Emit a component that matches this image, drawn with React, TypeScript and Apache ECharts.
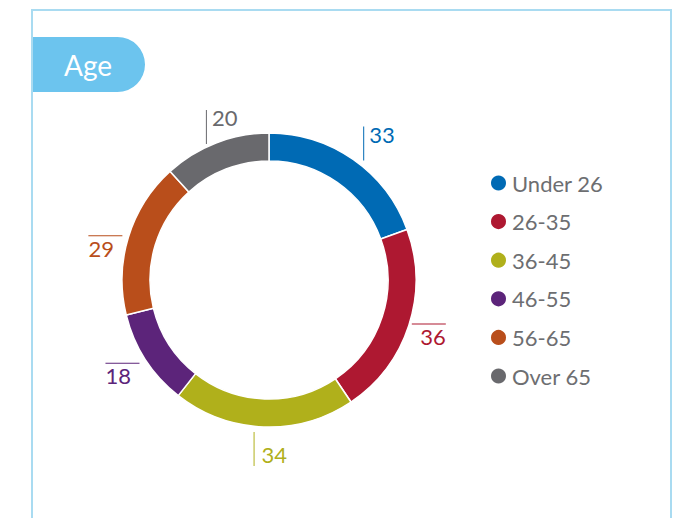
import React, { useEffect, useRef } from "react";
import * as echarts from "echarts";

const categories = ["Under 26", "26-35", "36-45", "46-55", "56-65", "Over 65"];
const values = [33, 36, 34, 18, 29, 20];
const colors = ["#006ab4", "#ae1831", "#b0b01b", "#5c247a", "#b94e1b", "#69696d"];
const titleText = "Age";

const W = 680;
const H = 518;
const CX = 269;
const CY = 280;
const R_IN = 119;
const R_OUT = 147;
const FONT = "Lato, 'Open Sans', sans-serif";

export default function App() {
  const ref = useRef<HTMLDivElement>(null);

  useEffect(() => {
    if (!ref.current) return;
    const chart = echarts.init(ref.current, undefined, { renderer: "svg" });

    const total = values.reduce((a, b) => a + b, 0);
    const mids: number[] = [];
    let cum = 0;
    values.forEach((v) => {
      mids.push(((cum + v / 2) / total) * Math.PI * 2);
      cum += v;
    });
    const isVertical = (i: number) => Math.abs(Math.cos(mids[i])) > 0.7;

    const data = values.map((v, i) => {
      const c = colors[i];
      const th = mids[i];
      let fmt: string;
      if (isVertical(i)) {
        fmt = Math.cos(th) > 0 ? `{vbar|}{numT|${v}}` : `{vbar|}{numB|${v}}`;
      } else {
        fmt = Math.sin(th) > 0 ? `{hbar|}\n{numR|${v}}` : `{hbar|}\n{numL|${v}}`;
      }
      const num = { fontSize: 22, color: c, fontFamily: FONT, fontWeight: "normal", lineHeight: 22 };
      return {
        name: categories[i],
        value: v,
        itemStyle: { color: c },
        label: {
          formatter: fmt,
          rich: {
            vbar: { width: 1, height: 34, lineHeight: 34, backgroundColor: c },
            hbar: { width: 34, height: 1, lineHeight: 1, backgroundColor: c },
            numT: { ...num, verticalAlign: "top", padding: [-3, 0, 0, 5] },
            numB: { ...num, verticalAlign: "bottom", padding: [0, 0, 0, 7] },
            numR: { ...num, align: "right", padding: [2, 0, 0, 0] },
            numL: { ...num, align: "left", padding: [2, 0, 0, 0] },
          },
        },
      };
    });

    chart.setOption({
      animation: false,
      graphic: [
        {
          type: "rect",
          shape: { x: 32, y: 10, width: 639, height: 530 },
          style: { fill: "none", stroke: "#a9dbf1", lineWidth: 2 },
          z: 0,
        },
        {
          type: "rect",
          shape: { x: 33, y: 37, width: 112, height: 55, r: [0, 27.5, 27.5, 0] },
          style: { fill: "#6cc4ee" },
          z: 1,
        },
        {
          type: "text",
          x: 88,
          y: 65,
          style: {
            text: titleText,
            fill: "#ffffff",
            fontSize: 28,
            fontFamily: FONT,
            fontWeight: "normal",
            align: "center",
            verticalAlign: "middle",
          },
          z: 2,
        },
      ],
      legend: {
        orient: "vertical",
        left: 489,
        top: 172,
        padding: 0,
        icon: "circle",
        itemWidth: 17,
        itemHeight: 17,
        itemGap: 16.6,
        data: categories,
        textStyle: { fontSize: 22, color: "#6d6e71", fontFamily: FONT, fontWeight: "normal" },
      },
      series: [
        {
          type: "pie",
          center: [CX, CY],
          radius: [R_IN, R_OUT],
          startAngle: 90,
          clockwise: true,
          avoidLabelOverlap: false,
          itemStyle: { borderColor: "#ffffff", borderWidth: 1.5 },
          emphasis: { disabled: true },
          label: { show: true, position: "outside" },
          labelLine: { show: false },
          labelLayout: (p: any) => {
            const i = p.dataIndex;
            const th = mids[i];
            const s = Math.sin(th);
            const c = Math.cos(th);
            const px = CX + R_OUT * s;
            const py = CY - R_OUT * c;
            if (isVertical(i)) {
              return {
                x: px + (s >= 0 ? 10 : -10),
                y: c > 0 ? py + 1 : py + 5,
                align: "left",
                verticalAlign: c > 0 ? "bottom" : "top",
              };
            }
            return s > 0
              ? { x: px + 3, y: py - 2, align: "left", verticalAlign: "top" }
              : { x: px - 6, y: py + (c > 0 ? -2 : 3), align: "right", verticalAlign: "top" };
          },
          data,
        },
      ],
    });

    return () => chart.dispose();
  }, []);

  return (
    <div
      ref={ref}
      style={{ position: "fixed", left: 0, top: 0, width: W, height: H, background: "#ffffff" }}
    />
  );
}
